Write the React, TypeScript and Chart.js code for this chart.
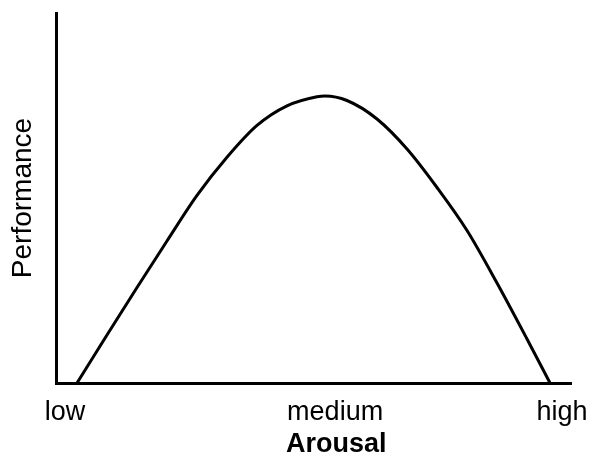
import React, { useEffect, useRef } from "react";
import { Chart, registerables } from "chart.js";

Chart.register(...registerables);

// Arousal position (0 = y axis, 100 = right end of x axis) and performance (0..100)
const arousal = [4.08, 9.9, 15.73, 21.55, 27.38, 33.2, 39.03, 44.85, 50.68, 52.23, 56.5, 62.33, 68.16, 73.98, 79.81, 85.63, 91.46, 95.92];
const performance = [0, 12.97, 25.81, 38.38, 50.7, 61.0, 69.6, 74.9, 77.35, 77.57, 76.35, 71.35, 63.24, 52.84, 41.22, 27.03, 11.89, 0];

const xTickValues = [1.75, 54.2, 98.25];
const xTickLabels = ["low", "medium", "high"];
const xTitleValue = [54.4];
const xTitleLabel = ["Arousal"];
const yTitle = "Performance";

const FONT = "'Liberation Sans', Arial, Helvetica, sans-serif";

export default function App() {
  const ref = useRef<HTMLCanvasElement | null>(null);

  useEffect(() => {
    if (!ref.current) return;
    const points = arousal.map((x, i) => ({ x, y: performance[i] }));
    const noPad = (scale: any) => {
      scale.paddingLeft = 0;
      scale.paddingRight = 0;
    };
    const chart = new Chart(ref.current, {
      type: "line",
      data: {
        datasets: [
          {
            data: points,
            borderColor: "#000",
            borderWidth: 3,
            pointRadius: 0,
            cubicInterpolationMode: "monotone",
            fill: false,
          },
        ],
      },
      options: {
        animation: false,
        responsive: false,
        layout: { padding: { top: 13, right: 22, left: 0, bottom: 0 } },
        plugins: { legend: { display: false }, tooltip: { enabled: false } },
        scales: {
          x: {
            type: "linear",
            position: "bottom",
            weight: 0,
            min: 0,
            max: 100,
            grid: { display: false, drawTicks: false },
            border: { display: true, color: "#000", width: 3 },
            afterBuildTicks: (scale: any) => {
              scale.ticks = xTickValues.map((v) => ({ value: v }));
            },
            afterFit: (scale: any) => {
              scale.height = 44;
              noPad(scale);
            },
            ticks: {
              autoSkip: false,
              maxRotation: 0,
              minRotation: 0,
              padding: 13,
              color: "#000",
              font: { family: FONT, size: 27 },
              callback: (_v: any, i: number) => xTickLabels[i],
            },
          },
          x2: {
            type: "linear",
            position: "bottom",
            weight: 1,
            min: 0,
            max: 100,
            grid: { display: false, drawTicks: false },
            border: { display: false },
            afterBuildTicks: (scale: any) => {
              scale.ticks = xTitleValue.map((v) => ({ value: v }));
            },
            afterFit: (scale: any) => {
              scale.height = 34;
              noPad(scale);
            },
            ticks: {
              autoSkip: false,
              maxRotation: 0,
              minRotation: 0,
              padding: 1,
              color: "#000",
              font: { family: FONT, size: 27, weight: "bold" },
              callback: (_v: any, i: number) => xTitleLabel[i],
            },
          },
          y: {
            type: "linear",
            min: 0,
            max: 100,
            grid: { display: false, drawTicks: false },
            border: { display: true, color: "#000", width: 3 },
            ticks: { display: false },
            afterFit: (scale: any) => {
              scale.width = 56;
            },
            title: {
              display: true,
              text: yTitle,
              color: "#000",
              font: { family: FONT, size: 28 },
              padding: { top: 6, bottom: 0 },
            },
          },
        },
      },
    });
    return () => chart.destroy();
  }, []);

  return (
    <div style={{ position: "absolute", left: 0, top: 0, width: 593, height: 461, background: "#fff" }}>
      <canvas ref={ref} width={593} height={461} style={{ display: "block" }} />
    </div>
  );
}
